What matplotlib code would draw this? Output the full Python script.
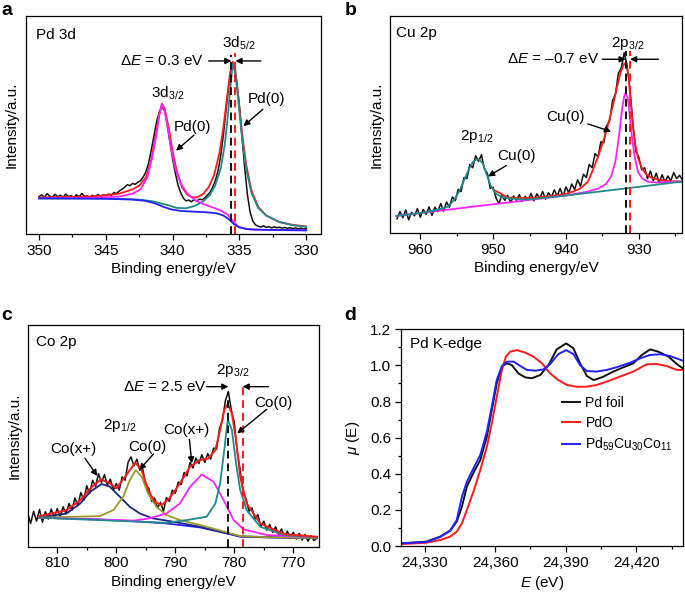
import numpy as np
import matplotlib
matplotlib.use("Agg")
import matplotlib.pyplot as plt
from matplotlib.ticker import MultipleLocator, FuncFormatter

plt.rcParams["font.family"] = ["Liberation Sans", "DejaVu Sans"]
plt.rcParams["mathtext.fontset"] = "custom"
plt.rcParams["mathtext.rm"] = "Liberation Sans"
plt.rcParams["mathtext.it"] = "Liberation Sans:italic"
plt.rcParams["mathtext.bf"] = "Liberation Sans:bold"
plt.rcParams["font.size"] = 11

# ── Colours ───────────────────────────────────────────────────────────────────
BLACK = "#111111"
RED = "#ff1a1a"
TEAL = "#1f8a8a"
MAGENTA = "#ff22ff"
BLUE = "#2222ff"
NAVY = "#1c2580"
OLIVE = "#9a9a28"

# ── Panel a: Pd 3d (intensity in arbitrary units, 0..1 of the frame) ─────────
pd_energy = np.linspace(350.0, 330.0, 101)
pd_raw = [
    0.172, 0.180, 0.168, 0.185, 0.174, 0.170, 0.182, 0.171, 0.178, 0.169,
    0.183, 0.172, 0.176, 0.168, 0.180, 0.171, 0.186, 0.173, 0.175, 0.169,
    0.177, 0.172, 0.181, 0.174, 0.179, 0.176, 0.183, 0.178, 0.190, 0.186,
    0.197, 0.205, 0.214, 0.226, 0.222, 0.232, 0.228, 0.238, 0.245, 0.262,
    0.285, 0.325, 0.385, 0.450, 0.515, 0.560, 0.585, 0.565, 0.500, 0.420,
    0.345, 0.280, 0.225, 0.190, 0.165, 0.152, 0.156, 0.148, 0.158, 0.151,
    0.160, 0.157, 0.166, 0.178, 0.192, 0.215, 0.245, 0.290, 0.360, 0.455,
    0.570, 0.680, 0.760, 0.765, 0.700, 0.585, 0.440, 0.300, 0.180, 0.100,
    0.060, 0.042, 0.036, 0.032, 0.038, 0.030, 0.034, 0.028, 0.033, 0.029,
    0.031, 0.027, 0.030, 0.026, 0.029, 0.025, 0.028, 0.024, 0.027, 0.023,
    0.025,
]
pd_env_e = [350, 346, 344, 343, 342.5, 342, 341.6, 341.3, 341.0, 340.8, 340.6, 340.3,
            340.0, 339.7, 339.3, 338.9, 338.5, 338.1, 337.7, 337.3, 336.9, 336.5,
            336.2, 335.9, 335.7, 335.5, 335.3, 335.1, 334.8, 334.5, 334.1, 333.6,
            333.0, 332.0, 331.0, 330.0]
pd_env_v = [0.168, 0.172, 0.185, 0.205, 0.222, 0.26, 0.34, 0.44, 0.55, 0.598, 0.575, 0.49,
            0.38, 0.29, 0.215, 0.18, 0.168, 0.17, 0.185, 0.215, 0.27, 0.37,
            0.49, 0.64, 0.74, 0.79, 0.75, 0.64, 0.46, 0.32, 0.2, 0.125,
            0.085, 0.055, 0.042, 0.035]
pd52_e = [350, 346, 344, 342.5, 341.5, 340.5, 339.7, 339.0, 338.3, 337.7, 337.2, 336.8,
          336.4, 336.1, 335.9, 335.7, 335.5, 335.3, 335.1, 334.8, 334.5, 334.1, 333.6,
          333.0, 332.0, 331.0, 330.0]
pd52_v = [0.163, 0.163, 0.162, 0.158, 0.15, 0.135, 0.12, 0.118, 0.13, 0.15, 0.18, 0.225,
          0.3, 0.41, 0.52, 0.66, 0.78, 0.74, 0.62, 0.44, 0.3, 0.19, 0.12,
          0.085, 0.055, 0.04, 0.033]
pd32_e = [350, 346, 344, 343, 342.4, 341.9, 341.5, 341.2, 341.0, 340.8, 340.6, 340.4,
          340.1, 339.8, 339.4, 338.9, 338.3, 337.6, 336.9, 336.3, 335.9, 335.5, 335.1,
          334.6, 334.0, 332.0, 330.0]
pd32_v = [0.164, 0.166, 0.172, 0.185, 0.205, 0.26, 0.36, 0.46, 0.545, 0.596, 0.57, 0.5,
          0.39, 0.3, 0.232, 0.185, 0.155, 0.135, 0.12, 0.105, 0.09, 0.06, 0.035,
          0.024, 0.02, 0.018, 0.017]
pd_bg_e = [350, 345, 343, 342, 341.3, 340.7, 340.1, 339.4, 338.5, 337.5, 336.7, 336.2,
           335.8, 335.4, 335.0, 334.3, 333.0, 330.0]
pd_bg_v = [0.164, 0.162, 0.158, 0.152, 0.14, 0.125, 0.113, 0.106, 0.103, 0.1, 0.095, 0.085,
           0.068, 0.045, 0.03, 0.022, 0.019, 0.017]
pd_ref_sample = 335.6
pd_ref_metal = 335.3

# ── Panel b: Cu 2p ────────────────────────────────────────────────────────────
cu_energy = np.linspace(963.2, 924.0, 99)
cu_raw = [
    0.065, 0.098, 0.070, 0.105, 0.060, 0.095, 0.078, 0.112, 0.072, 0.108,
    0.085, 0.120, 0.080, 0.118, 0.098, 0.135, 0.100, 0.142, 0.118, 0.165,
    0.148, 0.200, 0.190, 0.255, 0.250, 0.315, 0.300, 0.355, 0.330, 0.360,
    0.295, 0.275, 0.205, 0.210, 0.160, 0.135, 0.175, 0.150, 0.172, 0.140,
    0.170, 0.150, 0.176, 0.145, 0.168, 0.150, 0.182, 0.148, 0.180, 0.158,
    0.190, 0.155, 0.185, 0.165, 0.198, 0.170, 0.205, 0.168, 0.212, 0.185,
    0.225, 0.200, 0.245, 0.215, 0.270, 0.255, 0.315, 0.300, 0.365, 0.350,
    0.420, 0.415, 0.495, 0.515, 0.610, 0.640, 0.735, 0.760, 0.830, 0.770,
    0.660, 0.500, 0.375, 0.350, 0.290, 0.300, 0.250, 0.285, 0.240, 0.275,
    0.230, 0.268, 0.235, 0.262, 0.240, 0.278, 0.250, 0.265, 0.245,
]
cu_env_e = [950, 948, 946, 944, 942, 940, 939, 938, 937, 936.3, 935.5, 934.8, 934.2,
            933.6, 933.0, 932.5, 932.0, 931.7, 931.4, 931.1, 930.8, 930.5, 930.1,
            929.6, 929.0, 928.2, 927, 925.5, 924.0]
cu_env_v = [0.2, 0.163, 0.16, 0.163, 0.17, 0.18, 0.19, 0.205, 0.235, 0.29, 0.36, 0.43, 0.5,
            0.58, 0.67, 0.74, 0.78, 0.775, 0.72, 0.6, 0.49, 0.41, 0.345,
            0.3, 0.27, 0.253, 0.243, 0.238, 0.236]
cu32_e = [963.3, 945, 940, 937, 935.5, 934.5, 933.8, 933.2, 932.7, 932.3, 932.0, 931.8,
          931.5, 931.2, 930.9, 930.5, 930.1, 929.5, 928.7, 927.5, 926, 923.9]
cu32_v = [0.078, 0.152, 0.172, 0.19, 0.205, 0.225, 0.26, 0.33, 0.45, 0.57, 0.63, 0.645,
          0.62, 0.53, 0.43, 0.34, 0.28, 0.25, 0.235, 0.232, 0.234, 0.237]
cu12_e = [963.3, 959.5, 957.5, 956.2, 955.4, 954.6, 953.9, 953.3, 952.8, 952.4, 952.1,
          951.8, 951.4, 950.9, 950.3, 949.6, 948.8, 947.5, 945.5, 940, 930, 923.9]
cu12_v = [0.078, 0.093, 0.108, 0.12, 0.15, 0.195, 0.25, 0.295, 0.325, 0.337, 0.339,
          0.335, 0.318, 0.27, 0.215, 0.18, 0.165, 0.158, 0.153, 0.172, 0.212, 0.237]
cu_ref_sample = 931.8
cu_ref_metal = 931.2

# ── Panel c: Co 2p ────────────────────────────────────────────────────────────
co_energy = np.linspace(815.0, 766.0, 99)
co_raw = [
    0.150, 0.105, 0.160, 0.115, 0.168, 0.110, 0.158, 0.125, 0.170, 0.128,
    0.172, 0.135, 0.180, 0.148, 0.195, 0.165, 0.220, 0.185, 0.245, 0.210,
    0.275, 0.240, 0.300, 0.272, 0.330, 0.290, 0.325, 0.278, 0.305, 0.255,
    0.285, 0.255, 0.315, 0.300, 0.380, 0.405, 0.365, 0.395, 0.345, 0.350,
    0.275, 0.265, 0.205, 0.220, 0.175, 0.200, 0.160, 0.222, 0.205, 0.255,
    0.240, 0.292, 0.280, 0.335, 0.320, 0.380, 0.355, 0.400, 0.375, 0.415,
    0.380, 0.420, 0.395, 0.445, 0.440, 0.535, 0.570, 0.660, 0.700, 0.615,
    0.560, 0.430, 0.345, 0.240, 0.215, 0.160, 0.175, 0.125, 0.145, 0.090,
    0.115, 0.075, 0.100, 0.065, 0.090, 0.055, 0.080, 0.045, 0.070, 0.040,
    0.065, 0.035, 0.060, 0.030, 0.055, 0.025, 0.050, 0.028, 0.040,
]
co_env_e = [813.1, 808.4, 806.1, 804.1, 802.6, 801.1, 800.0, 798.5, 796.8, 795.7, 794.6,
            793.5, 792.3, 791.0, 789.2, 787.5, 785.8, 784.4, 783.2, 782.4, 781.7,
            781.1, 780.4, 779.7, 779.0, 777.9, 775.6, 771.6, 766.0]
co_env_v = [0.138, 0.165, 0.21, 0.27, 0.304, 0.286, 0.263, 0.316, 0.379, 0.346, 0.256,
            0.203, 0.188, 0.218, 0.286, 0.361, 0.391, 0.398, 0.436, 0.526, 0.617,
            0.644, 0.60, 0.481, 0.316, 0.195, 0.105, 0.057, 0.045]
co_bg_e = [813.1, 802.8, 797.0, 791.5, 785.8, 781.3, 779.0, 774.5, 766.0]
co_bg_v = [0.131, 0.123, 0.115, 0.105, 0.087, 0.06, 0.045, 0.042, 0.038]
co_sat12_e = [813.1, 808.4, 806.1, 804.4, 802.5, 801.1, 799.4, 797.7, 796.0, 793.8, 790.4,
              785.8, 781.3, 779.0, 774.5, 766.0]
co_sat12_v = [0.131, 0.15, 0.195, 0.248, 0.283, 0.271, 0.226, 0.18, 0.15, 0.128, 0.113,
              0.09, 0.062, 0.047, 0.043, 0.039]
co_met12_e = [813.1, 802.8, 800.5, 798.8, 797.7, 796.7, 795.7, 794.6, 793.2, 791.5, 789.2,
              785.8, 781.3, 779.0, 774.5, 766.0]
co_met12_v = [0.131, 0.138, 0.165, 0.226, 0.30, 0.346, 0.316, 0.24, 0.18, 0.143, 0.12,
              0.098, 0.065, 0.048, 0.043, 0.039]
co_sat32_e = [813.1, 797.0, 794.4, 791.5, 789.2, 787.5, 785.5, 783.5, 781.8, 780.1, 778.4,
              774.5, 766.0]
co_sat32_v = [0.131, 0.118, 0.128, 0.15, 0.195, 0.27, 0.326, 0.293, 0.21, 0.12, 0.078,
              0.053, 0.042]
co_met32_e = [813.1, 791.5, 788.1, 784.7, 783.2, 782.4, 781.7, 781.1, 780.4, 779.7, 779.0,
              777.9, 775.6, 771.6, 766.0]
co_met32_v = [0.131, 0.108, 0.12, 0.135, 0.195, 0.286, 0.436, 0.574, 0.526, 0.376, 0.256,
              0.165, 0.09, 0.053, 0.042]
co_ref_sample = 781.0
co_ref_metal = 778.6

# ── Panel d: Pd K-edge XANES ──────────────────────────────────────────────────
xanes_foil_e = [24320.4, 24330.7, 24336.7, 24340.9, 24343.7, 24345.9, 24348.0, 24350.8,
                24353.7, 24356.5, 24358.6, 24360.7, 24362.9, 24365.0, 24367.1, 24369.9,
                24372.8, 24375.6, 24379.2, 24382.7, 24386.2, 24390.2, 24393.3, 24396.1,
                24399.0, 24401.8, 24405.4, 24410.3, 24414.6, 24418.8, 24422.4, 24425.9,
                24429.4, 24433.7, 24437.2, 24439.8]
xanes_foil_mu = [0.015, 0.024, 0.052, 0.085, 0.135, 0.218, 0.329, 0.406,
                 0.476, 0.606, 0.753, 0.90, 0.993, 1.012, 1.002, 0.956,
                 0.934, 0.929, 0.947, 1.002, 1.089, 1.122, 1.095, 1.012,
                 0.942, 0.919, 0.934, 0.966, 0.99, 1.012, 1.058, 1.089,
                 1.076, 1.049, 1.008, 0.984]
xanes_pdo_e = [24320.4, 24330.7, 24336.7, 24340.9, 24343.7, 24345.9, 24348.0, 24350.8,
               24353.7, 24356.5, 24358.6, 24360.7, 24362.9, 24364.6, 24366.4, 24369.3,
               24372.8, 24376.3, 24379.9, 24383.4, 24386.9, 24390.5, 24394.7, 24398.9,
               24403.2, 24407.4, 24413.1, 24418.8, 24424.4, 24428.6, 24432.9, 24437.2,
               24439.8]
xanes_pdo_mu = [0.011, 0.018, 0.033, 0.052, 0.079, 0.126, 0.199, 0.301,
                0.421, 0.55, 0.679, 0.827, 0.975, 1.049, 1.076, 1.085,
                1.071, 1.049, 1.012, 0.956, 0.919, 0.892, 0.882, 0.882,
                0.892, 0.91, 0.938, 0.966, 1.006, 1.008, 0.997, 0.975,
                0.975]
xanes_alloy_e = [24320.4, 24330.7, 24336.7, 24340.9, 24343.7, 24345.9, 24348.0, 24350.8,
                 24353.7, 24356.5, 24358.6, 24360.7, 24362.9, 24365.0, 24367.9, 24370.7,
                 24373.5, 24377.1, 24380.6, 24383.4, 24386.9, 24390.2, 24393.3, 24396.1,
                 24399.0, 24403.2, 24407.4, 24411.7, 24417.4, 24421.6, 24425.9, 24430.1,
                 24434.4, 24439.8]
xanes_alloy_mu = [0.015, 0.022, 0.05, 0.085, 0.144, 0.273, 0.356, 0.43,
                  0.504, 0.633, 0.772, 0.919, 0.997, 1.021, 1.021, 0.997,
                  0.975, 0.971, 0.978, 1.008, 1.063, 1.085, 1.063, 1.002,
                  0.969, 0.966, 0.975, 0.99, 1.015, 1.039, 1.058, 1.062,
                  1.052, 1.026]
xanes_labels = ["Pd foil", "PdO", "Pd$_{59}$Cu$_{30}$Co$_{11}$"]


# ── Helpers ───────────────────────────────────────────────────────────────────

def style_xps(ax, lo, hi, major, minor):
    ax.set_xlim(lo, hi)
    ax.set_ylim(0, 1)
    ax.xaxis.set_major_locator(MultipleLocator(major))
    ax.xaxis.set_minor_locator(MultipleLocator(minor))
    ax.set_yticks([])
    ax.tick_params(axis="x", which="major", direction="out", length=4, width=0.9, pad=3)
    ax.tick_params(axis="x", which="minor", direction="out", length=2.5, width=0.9)
    ax.set_xlabel("Binding energy/eV", labelpad=3)
    ax.set_ylabel("Intensity/a.u.", labelpad=5)
    for s in ax.spines.values():
        s.set_linewidth(0.9)


def arrow(ax, start, end):
    ax.annotate("", xy=end, xytext=start,
                arrowprops=dict(arrowstyle="-|>", color="k", lw=1.0,
                                mutation_scale=9, shrinkA=0, shrinkB=0))


def ref_lines(ax, e_sample, e_metal, top_sample, top_metal):
    ax.plot([e_sample, e_sample], [0, top_sample], color=BLACK, lw=1.4, ls=(0, (4, 2.5)))
    ax.plot([e_metal, e_metal], [0, top_metal], color=RED, lw=1.4, ls=(0, (4, 2.5)))


fig = plt.figure(figsize=(6.85, 5.94), dpi=100)
ax_a = fig.add_axes([0.0375, 0.606, 0.431, 0.367])
ax_b = fig.add_axes([0.570, 0.608, 0.4263, 0.3653])
ax_c = fig.add_axes([0.0413, 0.0796, 0.4248, 0.3732])
ax_d = fig.add_axes([0.5854, 0.0808, 0.4121, 0.3648])

# ── a ──
ax = ax_a
ax.plot(pd_energy, pd_raw, color=BLACK, lw=1.1)
ax.plot(pd_env_e, pd_env_v, color=RED, lw=1.3)
ax.plot(pd52_e, pd52_v, color=TEAL, lw=1.3)
ax.plot(pd32_e, pd32_v, color=MAGENTA, lw=1.3)
ax.plot(pd_bg_e, pd_bg_v, color=BLUE, lw=1.3)
ref_lines(ax, pd_ref_sample, pd_ref_metal, 0.82, 0.83)
style_xps(ax, 351.0, 328.9, 5, 2.5)
ax.text(350.2, 0.913, "Pd 3d", ha="left", va="center")
ax.text(335.05, 0.875, "3d$_{5/2}$", ha="center", va="center")
ax.text(340.8, 0.794, "Δ$E$ = 0.3 eV", ha="center", va="center")
arrow(ax, (337.3, 0.794), (pd_ref_sample, 0.794))
arrow(ax, (333.4, 0.794), (pd_ref_metal, 0.794))
ax.text(340.4, 0.645, "3d$_{3/2}$", ha="center", va="center")
ax.text(338.5, 0.492, "Pd(0)", ha="center", va="center")
arrow(ax, (338.4, 0.454), (339.75, 0.382))
ax.text(333.0, 0.618, "Pd(0)", ha="center", va="center")
arrow(ax, (333.25, 0.572), (334.7, 0.495))

# ── b ──
ax = ax_b
ax.plot(cu_energy, cu_raw, color=BLACK, lw=1.1)
ax.plot(cu_env_e, cu_env_v, color=RED, lw=1.3)
ax.plot(cu32_e, cu32_v, color=MAGENTA, lw=1.3)
ax.plot(cu12_e, cu12_v, color=TEAL, lw=1.3)
ref_lines(ax, cu_ref_sample, cu_ref_metal, 0.84, 0.84)
style_xps(ax, 964.1, 924.0, 10, 5)
ax.text(963.3, 0.92, "Cu 2p", ha="left", va="center")
ax.text(931.5, 0.874, "2p$_{3/2}$", ha="center", va="center")
ax.text(941.8, 0.80, "Δ$E$ = \u20130.7 eV", ha="center", va="center")
arrow(ax, (935.0, 0.80), (cu_ref_sample, 0.80))
arrow(ax, (927.3, 0.80), (cu_ref_metal, 0.80))
ax.text(940.0, 0.536, "Cu(0)", ha="center", va="center")
arrow(ax, (937.0, 0.502), (933.8, 0.467))
ax.text(952.3, 0.444, "2p$_{1/2}$", ha="center", va="center")
ax.text(946.8, 0.352, "Cu(0)", ha="center", va="center")
arrow(ax, (948.2, 0.31), (950.7, 0.26))

# ── c ──
ax = ax_c
ax.plot(co_energy, co_raw, color=BLACK, lw=1.1)
ax.plot(co_bg_e, co_bg_v, color=BLUE, lw=1.3)
ax.plot(co_sat12_e, co_sat12_v, color=NAVY, lw=1.3)
ax.plot(co_met12_e, co_met12_v, color=OLIVE, lw=1.3)
ax.plot(co_sat32_e, co_sat32_v, color=MAGENTA, lw=1.3)
ax.plot(co_met32_e, co_met32_v, color=TEAL, lw=1.3)
ax.plot(co_env_e, co_env_v, color=RED, lw=1.4)
ref_lines(ax, co_ref_sample, co_ref_metal, 0.70, 0.72)
style_xps(ax, 814.9, 765.6, 10, 5)
ax.text(813.6, 0.925, "Co 2p", ha="left", va="center")
ax.text(780.2, 0.797, "2p$_{3/2}$", ha="center", va="center")
ax.text(791.7, 0.722, "Δ$E$ = 2.5 eV", ha="center", va="center")
arrow(ax, (784.7, 0.722), (co_ref_sample, 0.722))
arrow(ax, (774.2, 0.722), (co_ref_metal, 0.722))
ax.text(773.3, 0.647, "Co(0)", ha="center", va="center")
arrow(ax, (774.5, 0.62), (779.5, 0.511))
ax.text(788.1, 0.526, "Co(x+)", ha="center", va="center")
arrow(ax, (787.6, 0.484), (787.2, 0.376))
ax.text(799.4, 0.549, "2p$_{1/2}$", ha="center", va="center")
ax.text(794.8, 0.451, "Co(0)", ha="center", va="center")
arrow(ax, (793.7, 0.418), (796.1, 0.346))
ax.text(807.2, 0.439, "Co(x+)", ha="center", va="center")
arrow(ax, (805.3, 0.399), (803.2, 0.319))

# ── d ──
ax = ax_d
ax.plot(xanes_foil_e, xanes_foil_mu, color=BLACK, lw=1.4, label=xanes_labels[0])
ax.plot(xanes_pdo_e, xanes_pdo_mu, color=RED, lw=1.4, label=xanes_labels[1])
ax.plot(xanes_alloy_e, xanes_alloy_mu, color=BLUE, lw=1.4, label=xanes_labels[2])
ax.set_xlim(24320, 24440)
ax.set_ylim(0, 1.2)
ax.xaxis.set_major_locator(MultipleLocator(30))
ax.xaxis.set_minor_locator(MultipleLocator(15))
ax.yaxis.set_major_locator(MultipleLocator(0.2))
ax.yaxis.set_minor_locator(MultipleLocator(0.1))
ax.xaxis.set_major_formatter(FuncFormatter(lambda v, p: f"{v:,.0f}"))
ax.yaxis.set_major_formatter(FuncFormatter(lambda v, p: f"{v:.1f}"))
ax.tick_params(which="major", direction="out", length=4, width=0.9, pad=3)
ax.tick_params(which="minor", direction="out", length=2.5, width=0.9)
for s in ax.spines.values():
    s.set_linewidth(0.9)
ax.set_xlabel("$E$ (eV)", labelpad=3)
ax.set_ylabel("$\\mu$ (E)", labelpad=6)
ax.text(0.032, 0.932, "Pd K-edge", transform=ax.transAxes, ha="left", va="center")
ax.legend(loc="upper left", bbox_to_anchor=(0.55, 0.72), frameon=False, fontsize=10,
          handlelength=1.3, handletextpad=0.4, labelspacing=0.45, borderaxespad=0)

for x, y, s in [(0.002, 0.975, "a"), (0.503, 0.975, "b"),
                (0.002, 0.461, "c"), (0.503, 0.461, "d")]:
    fig.text(x, y, s, fontsize=14, fontweight="bold", ha="left", va="baseline")

fig.savefig("out.png", dpi=100)
